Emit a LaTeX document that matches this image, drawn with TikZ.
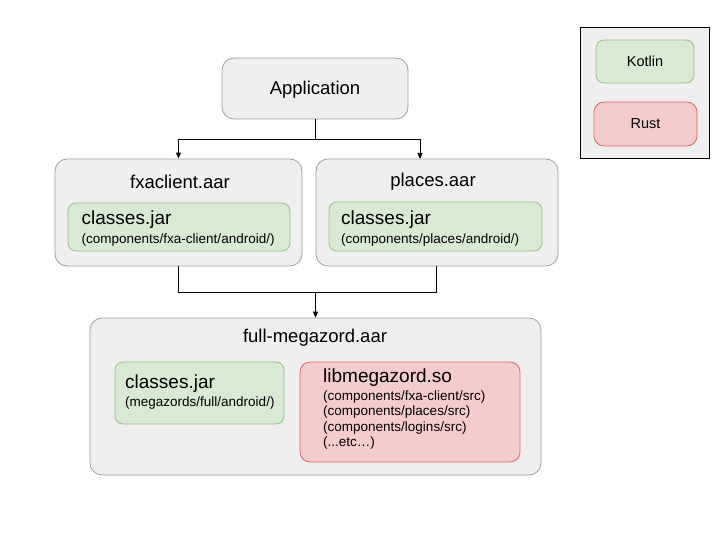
\documentclass[tikz,border=0pt]{standalone}
\usepackage{fontspec}
\setmainfont{Liberation Sans}
\usetikzlibrary{arrows.meta}
\definecolor{boxgray}{HTML}{EFEFEF}
\definecolor{boxgraydraw}{HTML}{9E9E9E}
\definecolor{kfill}{HTML}{D9EAD3}
\definecolor{kdraw}{HTML}{93C47D}
\definecolor{rfill}{HTML}{F4CCCC}
\definecolor{rdraw}{HTML}{E06666}
\tikzset{
  graybox/.style={draw=boxgraydraw, fill=boxgray, rounded corners=12pt, line width=0.8pt, inner sep=0pt},
  kbox/.style={draw=kdraw, fill=kfill, rounded corners=8pt, line width=0.8pt, inner sep=0pt},
  rbox/.style={draw=rdraw, fill=rfill, rounded corners=10pt, line width=0.8pt, inner sep=0pt},
  conn/.style={line width=0.9pt, black},
  arr/.style={conn, -{Triangle[length=6pt,width=5pt]}},
  title/.style={font=\fontsize{18.5}{21}\selectfont, inner sep=0pt},
  big/.style={font=\fontsize{19}{21}\selectfont, inner sep=0pt, anchor=west},
  small/.style={font=\fontsize{13.5}{15.5}\selectfont, inner sep=0pt, anchor=west},
}
\begin{document}
\begin{tikzpicture}[x=1pt,y=-1pt]
\useasboundingbox (0,0) rectangle (727,545);
% legend
\node[draw=black, fill=boxgray, line width=0.9pt, minimum width=129pt, minimum height=131pt, inner sep=0pt] (legend) at (644.5,92.5) {};
\node[kbox, minimum width=98pt, minimum height=43pt, font=\fontsize{14.5}{16}\selectfont] (kotlin) at (645,61.5) {Kotlin};
\node[rbox, minimum width=103pt, minimum height=44pt, font=\fontsize{14.5}{16}\selectfont] (rust) at (645.5,124) {Rust};
% application
\node[graybox, minimum width=186pt, minimum height=61pt] (app) at (315,88.5) {};
\node[title] (appt) at (315,89.5) {Application};
% fxaclient
\node[graybox, minimum width=247pt, minimum height=107pt] (fxa) at (178.5,212.5) {};
\node[title] (fxat) at (180,182) {fxaclient.aar};
\node[kbox, minimum width=222pt, minimum height=48pt] (fxac) at (179,227) {};
\node[big] (fxact) at (81.5,220) {classes.jar};
\node[small] (fxacs) at (81.5,240) {(components/fxa-client/android/)};
% places
\node[graybox, minimum width=242pt, minimum height=107pt] (places) at (437,212.5) {};
\node[title] (placest) at (433,182) {places.aar};
\node[kbox, minimum width=213pt, minimum height=49pt] (placesc) at (435.5,226.5) {};
\node[big] (placesct) at (341,220) {classes.jar};
\node[small] (placescs) at (341,240) {(components/places/android/)};
% megazord
\node[graybox, minimum width=451pt, minimum height=157pt] (mega) at (315.5,396.5) {};
\node[title] (megat) at (315,338) {full-megazord.aar};
\node[kbox, minimum width=169pt, minimum height=62pt] (megac) at (199.5,393) {};
\node[big] (megact) at (125,384) {classes.jar};
\node[small] (megacs) at (125,403) {(megazords/full/android/)};
\node[rbox, minimum width=220pt, minimum height=100pt] (lib) at (410,412) {};
\node[big] (libt) at (323,378) {libmegazord.so};
\node[small] (lib1) at (323,397) {(components/fxa-client/src)};
\node[small] (lib2) at (323,412) {(components/places/src)};
\node[small] (lib3) at (323,428) {(components/logins/src)};
\node[small] (lib4) at (323,443) {(...etc…)};
% connectors
\coordinate (split) at (315,139);
\coordinate (pin) at (420,159);
\draw[conn] (app.south) -- (split);
\draw[arr] (split) -| (fxa.north);
\draw[arr] (split) -| (pin);
\coordinate (join) at (315.5,292);
\draw[conn] (fxa.south) |- (join);
\draw[conn] ([xshift=-1pt]places.south) |- (join);
\draw[arr] (join) -- (mega.north);
\end{tikzpicture}
\end{document}
